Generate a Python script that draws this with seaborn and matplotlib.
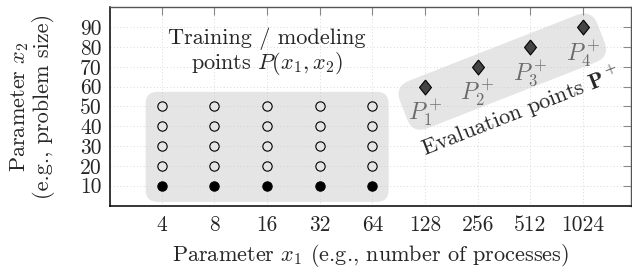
import matplotlib
matplotlib.use("Agg")
import matplotlib.pyplot as plt
import matplotlib.transforms as mtransforms
from matplotlib.patches import FancyBboxPatch
import pandas as pd
import seaborn as sns

# training / modeling grid
train_x = [4, 8, 16, 32, 64]
train_y_open = [20, 30, 40, 50]
train_y_base = 10
# evaluation points
eval_x = [128, 256, 512, 1024]
eval_y = [60, 70, 80, 90]
eval_labels = ["$P_1^+$", "$P_2^+$", "$P_3^+$", "$P_4^+$"]

x_ticks = [4, 8, 16, 32, 64, 128, 256, 512, 1024]
y_ticks = [10, 20, 30, 40, 50, 60, 70, 80, 90]

sns.set_style("white")
plt.rcParams["font.family"] = ["cmr10", "DejaVu Serif"]
plt.rcParams["mathtext.fontset"] = "cm"
plt.rcParams["axes.formatter.use_mathtext"] = True

open_df = pd.DataFrame([(x, y) for x in train_x for y in train_y_open], columns=["x1", "x2"])
base_df = pd.DataFrame({"x1": train_x, "x2": [train_y_base] * len(train_x)})
eval_df = pd.DataFrame({"x1": eval_x, "x2": eval_y})

fig, ax = plt.subplots(figsize=(6.32, 2.74), dpi=100)
fig.subplots_adjust(left=0.174, right=0.999, bottom=0.25, top=0.973)

ax.set_xscale("log", base=2)
ax.set_xlim(2.02, 1937)
ax.set_ylim(0, 100)

box_col = "#e5e5e5"

def add_box(cx, cy, w, h, angle, r):
    trans = (mtransforms.Affine2D().rotate_deg(angle) + fig.dpi_scale_trans
             + mtransforms.ScaledTranslation(cx, cy, ax.transData))
    p = FancyBboxPatch((-w / 2, -h / 2), w, h,
                       boxstyle=f"round,pad=0,rounding_size={r}",
                       fc=box_col, ec="none", transform=trans, zorder=0.3)
    ax.add_patch(p)

add_box(16, 29.6, 2.43, 1.10, 0, 0.12)
add_box(354, 67.6, 2.12, 0.51, 21.4, 0.16)

sns.scatterplot(data=open_df, x="x1", y="x2", ax=ax, marker="o", s=45,
                color=box_col, edgecolor="black", linewidth=0.8, zorder=3)
sns.scatterplot(data=base_df, x="x1", y="x2", ax=ax, marker="o", s=45,
                color="black", edgecolor="black", linewidth=0.8, zorder=3)
diamond = [(0, 0.5), (0.4, 0), (0, -0.5), (-0.4, 0), (0, 0.5)]
sns.scatterplot(data=eval_df, x="x1", y="x2", ax=ax, marker=diamond, s=115,
                color="#444444", edgecolor="black", linewidth=0.8, zorder=3)

for x, y, lab in zip(eval_x, eval_y, eval_labels):
    ax.annotate(lab, (x, y), xytext=(0, -27), textcoords="offset pixels",
                ha="center", va="center", color="#6a6a6a", fontsize=17)

ax.text(16, 77.5, "Training / modeling\npoints $P(x_1, x_2)$", ha="center",
        va="center", fontsize=16, linespacing=1.0)
ax.text(450, 47.5, r"Evaluation points $\mathbf{P}^+$", ha="center", va="center",
        fontsize=16, rotation=21.4, rotation_mode="anchor")

ax.set_xticks(x_ticks)
ax.set_xticklabels([str(v) for v in x_ticks])
ax.xaxis.set_minor_locator(matplotlib.ticker.NullLocator())
ax.set_yticks(y_ticks)
ax.set_yticklabels([str(v) for v in y_ticks])
ax.tick_params(axis="both", direction="in", length=6, width=0.8, color="#888888",
               labelsize=15.5, top=True, right=True)
ax.tick_params(axis="x", pad=7)
ax.tick_params(axis="y", pad=6)
ax.grid(True, linestyle=(0, (1, 3)), color="#cccccc", linewidth=0.6)
ax.set_axisbelow(True)

for s in ["left", "bottom"]:
    ax.spines[s].set_color("black")
    ax.spines[s].set_linewidth(1.1)
for s in ["top", "right"]:
    ax.spines[s].set_color("#555555")
    ax.spines[s].set_linewidth(1.0)

ax.set_xlabel("Parameter $x_1$ (e.g., number of processes)", fontsize=16, va="center")
ax.xaxis.set_label_coords(0.5, -0.253)
ax.set_ylabel("Parameter $x_2$\n(e.g., problem size)", fontsize=16, va="center",
              linespacing=1.05)
ax.yaxis.set_label_coords(-0.151, 0.5)

fig.savefig("out.png", dpi=100)
